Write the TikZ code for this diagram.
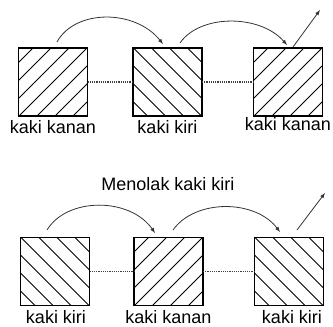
\documentclass[tikz,border=0pt]{standalone}
\usepackage{fontspec}
\setmainfont{Liberation Sans}
\usepackage{tikz}
\usetikzlibrary{positioning}

\begin{document}
\begin{tikzpicture}[x=1pt, y=1pt,
  footbox/.style={draw, line width=1.6pt, minimum width=69pt, minimum height=68pt, inner sep=0pt, outer sep=0pt},
  hatch/.style={black, line width=0.8pt},
  walk/.style={black!80, line width=0.8pt, ->, >=latex},
  gap/.style={black!75, line width=1.8pt, dash pattern=on 1.2pt off 1pt},
  footlabel/.style={inner sep=0pt, font=\fontsize{18}{20}\selectfont}]

\useasboundingbox (0,0) rectangle (333,327);

\node[footbox] (b1) at (53,245) {};
\node[footbox] (b2) at (167.5,245) {};
\node[footbox] (b3) at (288,245) {};

\node[footbox] (b4) at (55,55.5) {};
\node[footbox] (b5) at (168.5,55.5) {};
\node[footbox] (b6) at (289,55.5) {};

\foreach \b/\d in {b1/1,b2/-1,b3/1,b4/-1,b5/1,b6/-1}{
  \begin{scope}
    \clip (\b.south west) rectangle (\b.north east);
    \foreach \c in {-72,-54,...,72}
      \draw[hatch] ([xshift=\c pt]\b.center) ++(-50,{-50*\d}) -- ++(100,{100*\d});
  \end{scope}
}

\draw[gap] (b1) -- (b2);
\draw[gap] (b2) -- (b3);
\draw[gap] (b4) -- (b5);
\draw[gap] (b5) -- (b6);

\node[footlabel, below=4pt of b1] (l1) {kaki kanan};
\node[footlabel, below=4pt of b2] (l2) {kaki kiri};
\node[footlabel, below=1.5pt of b3] (l3) {kaki kanan};
\node[footlabel, below=5pt of b4, xshift=1pt] (l4) {kaki kiri};
\node[footlabel, below=5pt of b5] (l5) {kaki kanan};
\node[footlabel, below=5pt of b6, xshift=3pt] (l6) {kaki kiri};

\node[footlabel] (ttl) at (168,143) {Menolak kaki kiri};

\coordinate(A) at (57,285);
\coordinate(B) at (163,283);
\coordinate(C) at (180,284);
\coordinate(D) at (287,282);
\coordinate(E) at (293,280);
\coordinate(F) at (320,317);

\coordinate(G) at (47,97);
\coordinate(H) at (155,94);
\coordinate(I) at (173,97);
\coordinate(J) at (280,95);
\coordinate(K) at (297,97);
\coordinate(L) at (325,134);

\draw[walk] (A) .. controls (75,318) and (135,318) .. (B);
\draw[walk] (C) .. controls (200,313) and (260,313) .. (D);
\draw[walk] (E) -- (F);

\draw[walk] (G) .. controls (67,130) and (130,130) .. (H);
\draw[walk] (I) .. controls (195,128) and (255,128) .. (J);
\draw[walk] (K) -- (L);

\end{tikzpicture}
\end{document}
